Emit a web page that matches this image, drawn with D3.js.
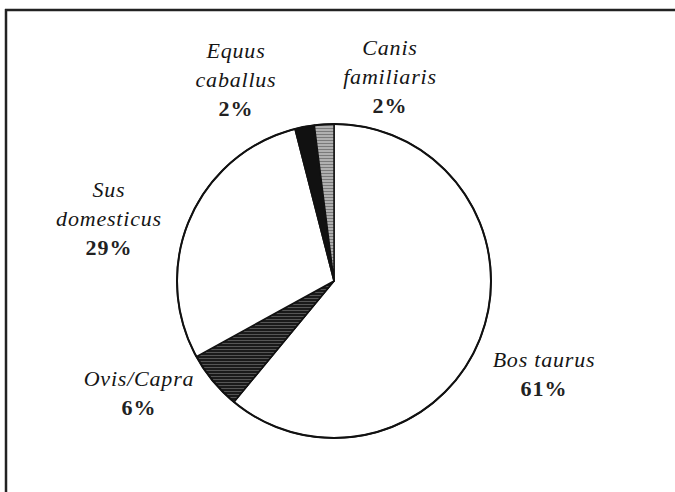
<!DOCTYPE html>
<html>
<head>
<meta charset="utf-8">
<script src="https://cdn.jsdelivr.net/npm/d3@7/dist/d3.min.js"></script>
<style>
  html, body { margin: 0; padding: 0; background: #fff; }
  svg { display: block; }
</style>
</head>
<body>
<svg id="chart" width="675" height="492"></svg>
<script>
// Species shares, clockwise from twelve o'clock
const species = ["Bos taurus", "Ovis/Capra", "Sus domesticus", "Equus caballus", "Canis familiaris"];
const shares = [61, 6, 29, 2, 2];
const fills = ["#ffffff", "url(#hatchDark)", "#ffffff", "#111111", "url(#hatchLight)"];

// Label lines (name split over lines, then the percentage)
const labelLines = [
  ["Bos taurus"],
  ["Ovis/Capra"],
  ["Sus", "domesticus"],
  ["Equus", "caballus"],
  ["Canis", "familiaris"]
];

const W = 675, H = 492;
const cx = 334, cy = 281, R = 157;
const serif = "'Liberation Serif', serif";

const svg = d3.select("#chart");
const defs = svg.append("defs");

// Dark horizontal hatching
const pd = defs.append("pattern").attr("id", "hatchDark")
  .attr("patternUnits", "userSpaceOnUse").attr("width", 6).attr("height", 3);
pd.append("rect").attr("width", 6).attr("height", 3).attr("fill", "#555");
pd.append("rect").attr("width", 6).attr("height", 2).attr("fill", "#1a1a1a");

// Light gray horizontal hatching
const pl = defs.append("pattern").attr("id", "hatchLight")
  .attr("patternUnits", "userSpaceOnUse").attr("width", 6).attr("height", 3);
pl.append("rect").attr("width", 6).attr("height", 3).attr("fill", "#b0b0b0");
pl.append("rect").attr("width", 6).attr("height", 1).attr("fill", "#7a7a7a");

// Frame: top and left edges
svg.append("line").attr("x1", 5).attr("x2", W).attr("y1", 10).attr("y2", 10)
  .attr("stroke", "#222").attr("stroke-width", 2.5);
svg.append("line").attr("x1", 6).attr("x2", 6).attr("y1", 9).attr("y2", H)
  .attr("stroke", "#222").attr("stroke-width", 2.5);

const pie = d3.pie().sort(null).value(d => d)(shares);
const arc = d3.arc().innerRadius(0).outerRadius(R);

const g = svg.append("g").attr("transform", `translate(${cx},${cy})`);
g.selectAll("path.slice").data(pie).join("path")
  .attr("class", "slice")
  .attr("d", arc)
  .attr("fill", (d, i) => fills[i])
  .attr("stroke", "#111")
  .attr("stroke-width", 1.5)
  .attr("stroke-linejoin", "round");

// Outer rim drawn a bit heavier
g.append("circle").attr("r", R).attr("fill", "none")
  .attr("stroke", "#111").attr("stroke-width", 2);

// Label anchors: centre x and first baseline
const labelPos = [
  [544, 367],
  [139, 386],
  [109, 197],
  [236, 58],
  [390, 55]
];
const lineH = 29;

labelLines.forEach((lines, i) => {
  const [x, y] = labelPos[i];
  lines.forEach((s, k) => {
    svg.append("text")
      .attr("x", x).attr("y", y + k * lineH)
      .attr("text-anchor", "middle")
      .attr("font-family", serif)
      .attr("font-size", 22)
      .attr("font-style", "italic")
      .attr("letter-spacing", 0.8)
      .attr("fill", "#151515")
      .text(s);
  });
  svg.append("text")
    .attr("x", x).attr("y", y + lines.length * lineH)
    .attr("text-anchor", "middle")
    .attr("font-family", serif)
    .attr("font-size", 22)
    .attr("font-weight", "bold")
    .attr("letter-spacing", 1)
    .attr("fill", "#222")
    .text(shares[i] + "%");
});
</script>
</body>
</html>
